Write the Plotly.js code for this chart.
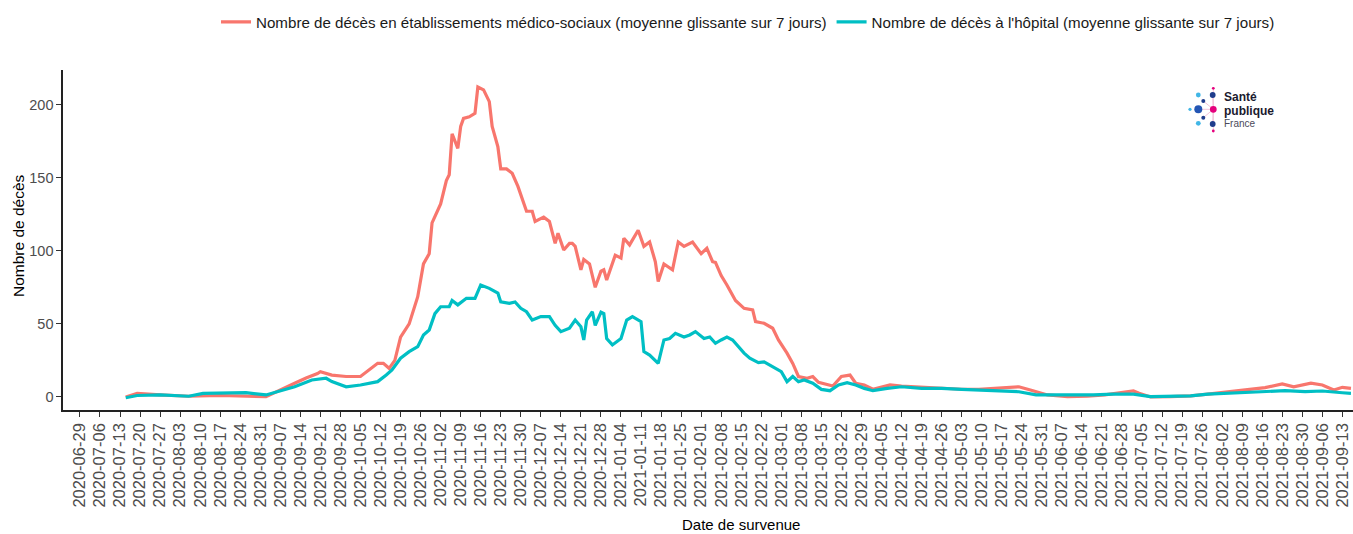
<!DOCTYPE html>
<html>
<head>
<meta charset="utf-8">
<script src="https://cdn.plot.ly/plotly-3.0.1.min.js"></script>
<style>
  html, body { margin: 0; padding: 0; background: #ffffff; }
  #chart { width: 1353px; height: 534px; }
</style>
</head>
<body>
<div id="chart"></div>
<script>
// ---- Data ----
const emsName = "Nombre de décès en établissements médico-sociaux (moyenne glissante sur 7 jours)";
const hospName = "Nombre de décès à l'hôpital (moyenne glissante sur 7 jours)";

const emsDates = [
  "2020-07-15","2020-07-19","2020-07-27","2020-08-06","2020-08-17","2020-08-27","2020-09-02","2020-09-12",
  "2020-09-16","2020-09-20","2020-09-21","2020-09-25","2020-09-30","2020-10-05","2020-10-07","2020-10-11",
  "2020-10-13","2020-10-15","2020-10-17","2020-10-19","2020-10-22","2020-10-25","2020-10-27","2020-10-29",
  "2020-10-30","2020-11-02","2020-11-04","2020-11-05","2020-11-06","2020-11-08","2020-11-09","2020-11-10",
  "2020-11-12","2020-11-14","2020-11-15","2020-11-17","2020-11-19","2020-11-20","2020-11-22","2020-11-23",
  "2020-11-25","2020-11-27","2020-11-29","2020-11-30","2020-12-02","2020-12-04","2020-12-05","2020-12-08",
  "2020-12-10","2020-12-12","2020-12-13","2020-12-15","2020-12-17","2020-12-18","2020-12-19","2020-12-21",
  "2020-12-22","2020-12-24","2020-12-26","2020-12-28","2020-12-29","2020-12-30","2021-01-02","2021-01-04",
  "2021-01-05","2021-01-07","2021-01-10","2021-01-12","2021-01-14","2021-01-16","2021-01-17","2021-01-19",
  "2021-01-22","2021-01-24","2021-01-26","2021-01-29","2021-02-01","2021-02-03","2021-02-05","2021-02-06",
  "2021-02-08","2021-02-10","2021-02-13","2021-02-16","2021-02-19","2021-02-20","2021-02-23","2021-02-26",
  "2021-02-28","2021-03-03","2021-03-05","2021-03-07","2021-03-10","2021-03-12","2021-03-14","2021-03-17",
  "2021-03-19","2021-03-22","2021-03-25","2021-03-27","2021-03-30","2021-04-02","2021-04-08","2021-04-12",
  "2021-04-19","2021-04-26","2021-05-03","2021-05-09","2021-05-16","2021-05-23","2021-05-27","2021-06-02",
  "2021-06-09","2021-06-16","2021-06-22","2021-06-29","2021-07-02","2021-07-04","2021-07-08","2021-07-15",
  "2021-07-22","2021-07-28","2021-08-04","2021-08-11","2021-08-17","2021-08-23","2021-08-27","2021-09-02",
  "2021-09-06","2021-09-10","2021-09-13","2021-09-16"
];
const emsValues = [
  0, 2.5, 1.5, 0.5, 1, 0.5, 0.2, 9.4,
  13, 16, 17.3, 15, 14, 14, 17, 23,
  23, 19.6, 25, 41, 50, 68.6, 91, 98,
  119, 132, 148, 152, 180, 170, 185, 190.5,
  191.6, 194, 212, 210, 202, 185, 171, 156,
  156, 153, 144, 138, 127, 127, 120, 123,
  120, 105, 112, 100.5, 105, 105, 103, 87,
  94, 91, 75, 86, 87, 80, 97, 95,
  108.5, 104, 114, 103, 106, 92.5, 79, 91,
  87, 106, 103, 106, 98, 101.7, 92.5, 92,
  83, 76.6, 66, 60.6, 59.5, 51.5, 50.4, 47,
  39, 30, 23, 14, 12.8, 14, 10, 8.5,
  7.5, 14, 15, 9.4, 8.2, 5.3, 8.2, 7.5,
  6.6, 5.9, 5.3, 5.3, 5.9, 7, 4.8, 1.4,
  0.2, 0.5, 1.4, 3.6, 4.1, 2.5, 0, 0.2,
  0.7, 2, 3.6, 5.3, 6.4, 8.9, 7, 9.4,
  8.2, 4.8, 6.6, 5.9
];

const hospDates = [
  "2020-07-15","2020-07-19","2020-07-27","2020-08-06","2020-08-11","2020-08-20","2020-08-26","2020-09-02",
  "2020-09-12","2020-09-18","2020-09-23","2020-09-25","2020-09-30","2020-10-05","2020-10-11","2020-10-14",
  "2020-10-16","2020-10-19","2020-10-22","2020-10-25","2020-10-27","2020-10-29","2020-10-31","2020-11-02",
  "2020-11-05","2020-11-06","2020-11-08","2020-11-11","2020-11-14","2020-11-16","2020-11-19","2020-11-22",
  "2020-11-23","2020-11-26","2020-11-28","2020-11-30","2020-12-02","2020-12-04","2020-12-07","2020-12-10",
  "2020-12-12","2020-12-14","2020-12-17","2020-12-19","2020-12-21","2020-12-22","2020-12-23","2020-12-25",
  "2020-12-26","2020-12-28","2020-12-29","2020-12-30","2021-01-01","2021-01-04","2021-01-06","2021-01-08",
  "2021-01-11","2021-01-12","2021-01-14","2021-01-17","2021-01-19","2021-01-21","2021-01-23","2021-01-26",
  "2021-01-28","2021-01-30","2021-02-02","2021-02-04","2021-02-06","2021-02-08","2021-02-10","2021-02-12",
  "2021-02-14","2021-02-16","2021-02-18","2021-02-21","2021-02-23","2021-02-26","2021-03-01","2021-03-03",
  "2021-03-05","2021-03-07","2021-03-09","2021-03-12","2021-03-15","2021-03-18","2021-03-21","2021-03-24",
  "2021-03-27","2021-03-30","2021-04-02","2021-04-07","2021-04-12","2021-04-19","2021-04-26","2021-05-03",
  "2021-05-09","2021-05-16","2021-05-23","2021-05-29","2021-06-05","2021-06-12","2021-06-18","2021-06-25",
  "2021-07-02","2021-07-08","2021-07-15","2021-07-22","2021-07-28","2021-08-04","2021-08-11","2021-08-17",
  "2021-08-24","2021-08-31","2021-09-06","2021-09-13","2021-09-16"
];
const hospValues = [
  -0.5, 1, 1.5, 0.5, 2.5, 2.5, 3, 1.4,
  7, 11.6, 12.8, 10.5, 7, 8.2, 10.5, 15,
  18.5, 26.5, 31, 34.4, 42.4, 45.8, 57, 61.7,
  61.7, 66, 63, 67.5, 67.5, 76.6, 74.3, 71,
  65, 64, 65, 60.6, 58.3, 52.6, 55, 55,
  49, 44.7, 47, 52.6, 48, 39, 52.6, 58.3,
  49, 58, 57, 40, 35.6, 40, 52.6, 55,
  51.5, 31, 28.7, 23, 39, 40, 43.5, 41,
  42.4, 44.7, 40, 41, 36.7, 39, 41, 39,
  34.4, 30, 26.5, 23.5, 24, 20.7, 17.3, 10.5,
  14, 10.5, 11.6, 9.4, 5.2, 4.3, 8.2, 9.8,
  8.2, 5.9, 4.3, 5.9, 7, 5.9, 5.9, 5.2,
  4.8, 4.1, 3.6, 1.4, 1.4, 1.4, 1.4, 2,
  2, 0.2, 0.2, 0.7, 2, 2.5, 3.2, 3.6,
  4.3, 3.6, 4.1, 2.9, 2.5
];

const yTickValues = [0, 50, 100, 150, 200];
const xTitle = "Date de survenue";
const yTitle = "Nombre de décès";

// ---- Layout helpers (pixel -> paper) ----
const W = 1353, H = 534;
const M = {l: 63, r: 0, t: 70, b: 124};
const PW = W - M.l - M.r, PH = H - M.t - M.b;
const px = x => (x - M.l) / PW;
const py = y => (H - M.b - y) / PH;

const FONT = "Liberation Sans, Arial, Helvetica, sans-serif";

const traces = [
  {x: emsDates, y: emsValues, name: emsName, type: "scatter", mode: "lines",
   line: {color: "#F8766D", width: 3.2}},
  {x: hospDates, y: hospValues, name: hospName, type: "scatter", mode: "lines",
   line: {color: "#00BFC4", width: 3.2}}
];

// Santé publique France logo (decoration)
const navy = "#1F3D8C", light = "#41B6E6", pink = "#E5007D", royal = "#2456B4";
const dots = [
  [1213.3, 88.3, 1.4, pink], [1212.7, 95, 2.9, navy], [1198.3, 95, 2.4, light],
  [1203.3, 101, 2.0, navy], [1190, 109.3, 1.6, light], [1198.3, 109.3, 4.0, royal],
  [1213.3, 109.3, 3.4, pink], [1203.3, 117.7, 2.0, navy], [1198.3, 123.3, 2.4, light],
  [1212.7, 124, 2.9, navy], [1213.3, 131, 1.4, pink]
];
const shapes = [];
const links = [[1213.3,88.3],[1212.7,95],[1203.3,101],[1198.3,109.3],[1203.3,117.7],[1212.7,124],[1213.3,131]];
links.forEach(p => shapes.push({type: "line", xref: "paper", yref: "paper",
  x0: px(1213.3), y0: py(109.3), x1: px(p[0]), y1: py(p[1]),
  line: {color: "#F3C3DA", width: 1}, layer: "above"}));
dots.forEach(d => shapes.push({type: "circle", xref: "paper", yref: "paper",
  x0: px(d[0] - d[2]), x1: px(d[0] + d[2]), y0: py(d[1] + d[2]), y1: py(d[1] - d[2]),
  fillcolor: d[3], line: {width: 0}, layer: "above"}));

const annotations = [
  {text: xTitle, xref: "paper", yref: "paper", x: px(741), y: py(524), xanchor: "center", yanchor: "middle",
   showarrow: false, font: {family: FONT, size: 15, color: "#000000"}},
  {text: yTitle, xref: "paper", yref: "paper", x: px(18), y: py(236), xanchor: "center", yanchor: "middle",
   textangle: -90, showarrow: false, font: {family: FONT, size: 15.5, color: "#000000"}},
  {text: "<b>Santé</b>", xref: "paper", yref: "paper", x: px(1222), y: py(97), xanchor: "left", yanchor: "middle",
   showarrow: false, font: {family: FONT, size: 12, color: "#1a1a2e"}},
  {text: "<b>publique</b>", xref: "paper", yref: "paper", x: px(1222), y: py(110.5), xanchor: "left", yanchor: "middle",
   showarrow: false, font: {family: FONT, size: 12, color: "#1a1a2e"}},
  {text: "France", xref: "paper", yref: "paper", x: px(1222), y: py(123.5), xanchor: "left", yanchor: "middle",
   showarrow: false, font: {family: FONT, size: 10, color: "#4a4a5a"}}
];

const layout = {
  width: W, height: H,
  margin: {l: M.l, r: M.r, t: M.t, b: M.b, pad: 0},
  paper_bgcolor: "#ffffff", plot_bgcolor: "#ffffff",
  font: {family: FONT, color: "#000000"},
  showlegend: true,
  legend: {orientation: "h", x: px(216), xanchor: "left", y: py(22), yanchor: "middle",
           font: {family: FONT, size: 15.15, color: "#1a1a1a"}, bgcolor: "rgba(0,0,0,0)",
           borderwidth: 0, itemwidth: 30},
  xaxis: {
    type: "date",
    range: ["2020-06-23 02:00", "2021-09-16 17:00"],
    tick0: "2020-06-29", dtick: 7 * 86400000, tickformat: "%Y-%m-%d",
    tickangle: -90, ticks: "outside", ticklen: 5, tickwidth: 1, tickcolor: "#333333",
    showline: true, linecolor: "#222222", linewidth: 1.6,
    showgrid: false, zeroline: false,
    tickfont: {family: FONT, size: 16.5, color: "#4D4D4D"},
    automargin: false, fixedrange: true
  },
  yaxis: {
    range: [-8.9, 223.6],
    tickmode: "array", tickvals: yTickValues, ticktext: yTickValues.map(String),
    ticks: "outside", ticklen: 5, tickwidth: 1, tickcolor: "#333333",
    showline: true, linecolor: "#222222", linewidth: 1.6,
    showgrid: false, zeroline: false,
    tickfont: {family: FONT, size: 14.5, color: "#4D4D4D"},
    automargin: false, fixedrange: true
  },
  shapes: shapes,
  annotations: annotations
};

Plotly.newPlot("chart", traces, layout, {staticPlot: true, displayModeBar: false});
</script>
</body>
</html>
